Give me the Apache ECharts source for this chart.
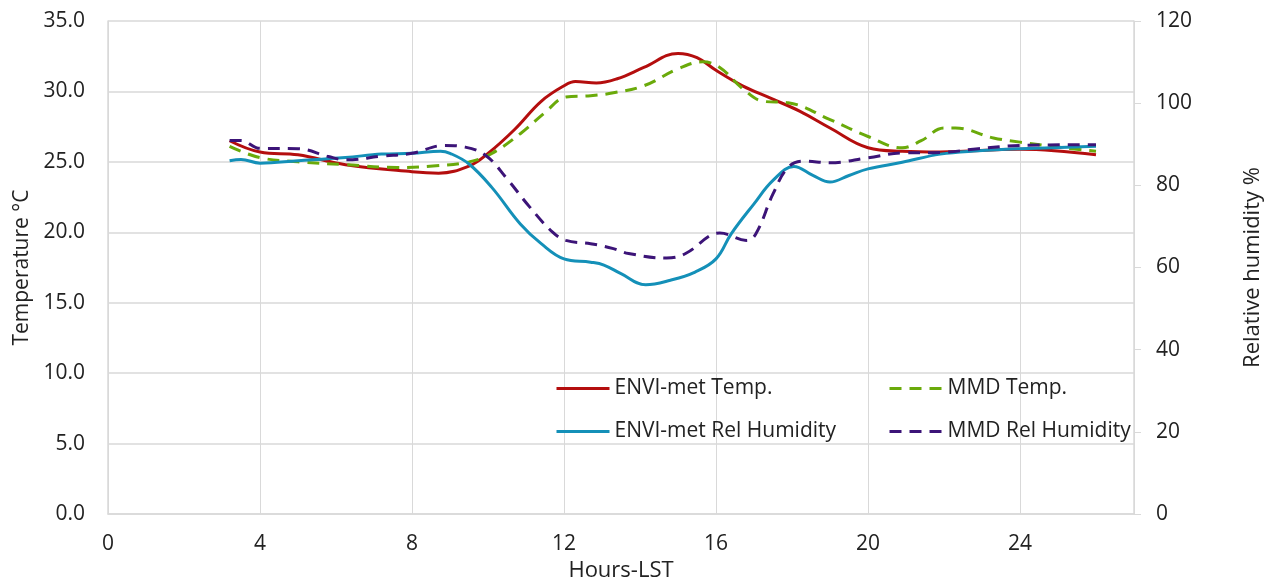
<!DOCTYPE html>
<html>
<head>
<meta charset="utf-8">
<script src="https://cdn.jsdelivr.net/npm/echarts@6/dist/echarts.min.js"></script>
<style>
  html, body { margin: 0; padding: 0; background: #fff; }
  #chart { width: 1274px; height: 578px; }
</style>
</head>
<body>
<div id="chart"></div>
<script>
// hours (LST) and values, one pair of arrays per series
var envTempHours = [3.2, 4.0, 5.0, 6.25, 8.0, 8.7, 9.5, 10.0, 10.7, 11.4, 12.0, 12.3, 12.85, 13.4, 14.1, 15.0, 15.5, 16.0, 16.7, 17.45, 18.2, 19.0, 20.0, 20.9, 21.9, 24.0, 26.0]
var envTemp = [26.5, 25.7, 25.5, 24.8, 24.3, 24.2, 24.7, 25.6, 27.3, 29.3, 30.4, 30.7, 30.6, 30.9, 31.7, 32.7, 32.4, 31.5, 30.4, 29.5, 28.6, 27.4, 26.0, 25.75, 25.7, 25.9, 25.5]

var mmdTempHours = [3.2, 4.0, 5.0, 6.25, 7.6, 8.55, 9.5, 10.1, 10.85, 11.5, 12.05, 12.7, 13.3, 14.1, 15.0, 15.65, 16.1, 16.7, 17.25, 17.9, 19.0, 20.0, 20.9, 21.4, 22.0, 22.3, 23.3, 24.0, 25.15, 26.0]
var mmdTemp = [26.1, 25.3, 25.0, 24.8, 24.6, 24.7, 25.0, 25.6, 27.0, 28.5, 29.6, 29.7, 29.9, 30.4, 31.6, 32.1, 31.7, 30.2, 29.3, 29.2, 28.0, 26.8, 26.0, 26.5, 27.4, 27.4, 26.7, 26.4, 26.0, 25.75]

var envRhHours = [3.2, 3.5, 4.0, 5.0, 6.25, 7.2, 8.0, 8.75, 9.0, 9.5, 10.1, 10.85, 11.4, 12.0, 12.7, 13.05, 13.5, 14.15, 14.8, 15.45, 16.0, 16.4, 17.0, 17.5, 18.05, 18.55, 19.0, 19.5, 20.0, 20.9, 21.9, 22.9, 24.0, 26.0]
var envRh = [86.0, 86.3, 85.4, 86.0, 86.8, 87.6, 87.8, 88.3, 87.8, 85.2, 79.5, 70.6, 65.8, 62.1, 61.3, 60.6, 58.5, 55.8, 56.9, 58.9, 62.1, 68.2, 75.5, 81.2, 84.6, 82.4, 80.8, 82.4, 84.0, 85.6, 87.6, 88.4, 88.9, 89.5]

var mmdRhHours = [3.2, 3.5, 4.0, 5.0, 5.8, 6.25, 7.2, 8.0, 8.85, 9.4, 9.95, 10.5, 11.1, 11.7, 12.05, 12.7, 13.3, 13.7, 14.7, 15.2, 15.85, 16.1, 16.8, 17.05, 17.5, 17.9, 18.3, 19.0, 20.0, 20.9, 21.9, 22.9, 24.0, 26.0]
var mmdRh = [90.9, 90.9, 89.0, 88.9, 87.0, 86.2, 87.1, 87.8, 89.7, 89.3, 87.2, 81.6, 74.7, 68.6, 66.6, 65.8, 64.6, 63.4, 62.3, 63.4, 67.8, 68.4, 66.6, 68.2, 77.9, 84.4, 85.9, 85.5, 86.7, 87.9, 88.0, 88.9, 89.7, 89.9]

var seriesNames = ['ENVI-met Temp.', 'MMD Temp.', 'ENVI-met Rel Humidity', 'MMD Rel Humidity']

function pairs(xs, ys) {
  return xs.map(function (x, i) { return [x, ys[i]] })
}

var font = '"Open Sans", "Noto Sans", sans-serif'
var txt = '#222'
var gridColor = '#d9d9d9'

function legendAt(left, names) {
  return {
    orient: 'vertical',
    left: left,
    top: 378,
    padding: 0,
    itemWidth: 53,
    itemHeight: 14,
    itemGap: 22,
    itemStyle: { opacity: 0 }, // line only, no marker
    lineStyle: { width: 3 },
    textStyle: { fontFamily: font, fontSize: 21, color: txt },
    data: names
  }
}

var chart = echarts.init(document.getElementById('chart'))
chart.setOption({
  animation: false,
  textStyle: { fontFamily: font },
  grid: { left: 108, right: 140, top: 21, bottom: 64, outerBoundsMode: 'none' },
  legend: [
    legendAt(555, [seriesNames[0], seriesNames[2]]),
    legendAt(888, [seriesNames[1], seriesNames[3]])
  ],
  xAxis: {
    type: 'value',
    min: 0,
    max: 27,
    interval: 4,
    name: 'Hours-LST',
    nameLocation: 'middle',
    nameGap: 41,
    nameTextStyle: { fontFamily: font, fontSize: 22, color: txt },
    axisLine: { lineStyle: { color: gridColor, width: 1.5 } },
    axisTick: { show: false },
    axisLabel: { fontSize: 21, color: txt, margin: 20, showMaxLabel: false },
    splitLine: { show: true, lineStyle: { color: gridColor } }
  },
  yAxis: [
    {
      type: 'value',
      min: 0,
      max: 35,
      interval: 5,
      name: 'Temperature °C',
      nameLocation: 'middle',
      nameGap: 72,
      nameTextStyle: { fontFamily: font, fontSize: 21, color: txt },
      axisLine: { show: true, lineStyle: { color: gridColor, width: 1.5 } },
      axisTick: { show: false },
      axisLabel: { fontSize: 21, color: txt, margin: 23, formatter: function (v) { return v.toFixed(1) } },
      splitLine: { show: true, lineStyle: { color: gridColor, width: 1.5 } }
    },
    {
      type: 'value',
      min: 0,
      max: 120,
      interval: 20,
      position: 'right',
      name: 'Relative humidity %',
      nameLocation: 'middle',
      nameGap: 108,
      nameRotate: 90,
      nameTextStyle: { fontFamily: font, fontSize: 22, color: txt },
      axisLine: { show: true, lineStyle: { color: gridColor, width: 1.5 } },
      axisTick: { show: true, length: 7, lineStyle: { color: gridColor } },
      axisLabel: { fontSize: 21, color: txt, margin: 22 },
      splitLine: { show: false }
    }
  ],
  series: [
    {
      name: seriesNames[0], type: 'line', yAxisIndex: 0, smooth: 0.4, symbol: 'none',
      lineStyle: { color: '#b40e0e', width: 3 }, itemStyle: { color: '#b40e0e' },
      data: pairs(envTempHours, envTemp)
    },
    {
      name: seriesNames[1], type: 'line', yAxisIndex: 0, smooth: 0.4, symbol: 'none',
      lineStyle: { color: '#6aaa0a', width: 3, type: [12, 8] }, itemStyle: { color: '#6aaa0a' },
      data: pairs(mmdTempHours, mmdTemp)
    },
    {
      name: seriesNames[2], type: 'line', yAxisIndex: 1, smooth: 0.4, symbol: 'none',
      lineStyle: { color: '#1490b8', width: 3 }, itemStyle: { color: '#1490b8' },
      data: pairs(envRhHours, envRh)
    },
    {
      name: seriesNames[3], type: 'line', yAxisIndex: 1, smooth: 0.4, symbol: 'none',
      lineStyle: { color: '#3c1478', width: 3, type: [12, 8] }, itemStyle: { color: '#3c1478' },
      data: pairs(mmdRhHours, mmdRh)
    }
  ]
})
</script>
</body>
</html>
